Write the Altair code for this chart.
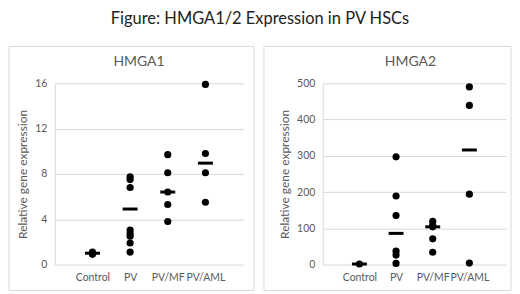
import altair as alt
import pandas as pd

FONT = "Lato"

categories = ["Control", "PV", "PV/MF", "PV/AML"]

# HMGA1 individual samples
hmga1_control = [1.1, 0.9]
hmga1_pv = [7.75, 7.5, 6.8, 3.05, 2.75, 2.5, 1.9, 1.1]
hmga1_pvmf = [9.7, 8.1, 6.4, 5.3, 3.8]
hmga1_pvaml = [15.9, 9.8, 8.1, 5.5]
hmga1_median = [1.0, 4.9, 6.4, 8.95]

# HMGA2 individual samples
hmga2_control = [1.5]
hmga2_pv = [297, 189, 135, 37, 26, 3]
hmga2_pvmf = [119, 108, 104, 71, 34]
hmga2_pvaml = [490, 439, 194, 4]
hmga2_median = [1.5, 86, 104, 316]


def points_frame(groups):
    rows = []
    for cat, vals in zip(categories, groups):
        for v in vals:
            rows.append({"group": cat, "value": v})
    return pd.DataFrame(rows)


def panel(groups, medians, title, domain, ticks, width, bx, by, title_dx):
    pts = points_frame(groups)
    med = pd.DataFrame({"group": categories, "value": medians})
    xenc = alt.X("group:N", sort=categories, title=None,
                 scale=alt.Scale(type="point", padding=1.0),
                 axis=alt.Axis(labelAngle=0, domain=False, ticks=False, grid=False,
                               labelPadding=8, labelFont=FONT, labelFontSize=10.5,
                               labelColor="#595959"))
    yenc = alt.Y("value:Q", title="Relative gene expression",
                 scale=alt.Scale(domain=domain, nice=False, zero=True),
                 axis=alt.Axis(values=ticks, grid=True, gridColor="#d9d9d9",
                               domain=True, domainColor="#d9d9d9", ticks=False,
                               labelOverlap=False,
                               labelPadding=8, labelFont=FONT, labelFontSize=10.5,
                               labelColor="#595959", titleFont=FONT, titleFontSize=12,
                               titleFontWeight="normal", titleColor="#595959",
                               titlePadding=5))
    dots = alt.Chart(pts).mark_circle(size=52, color="black", opacity=1).encode(x=xenc, y=yenc)
    bars = alt.Chart(med).mark_tick(color="black", thickness=3, size=15, opacity=1).encode(
        x=xenc, y=yenc)
    border = alt.Chart(pd.DataFrame({"k": [0]})).mark_rect(
        fillOpacity=0, stroke="#d9d9d9", strokeWidth=1).encode(
        x=alt.value(bx[0]), x2=alt.value(bx[1]), y=alt.value(by[0]), y2=alt.value(by[1]))
    return alt.layer(border, dots, bars).properties(
        width=width, height=182,
        title=alt.TitleParams(title, font=FONT, fontSize=14, fontWeight="normal",
                              color="#595959", frame="group", anchor="middle",
                              offset=-23, dx=title_dx))


left = panel([hmga1_control, hmga1_pv, hmga1_pvmf, hmga1_pvaml], hmga1_median,
             "HMGA1", [0, 16], [0, 4, 8, 12, 16], 189, (-46, 200), (-37, 208), -10)
right = panel([hmga2_control, hmga2_pv, hmga2_pvmf, hmga2_pvaml], hmga2_median,
              "HMGA2", [0, 500], [0, 100, 200, 300, 400, 500], 184, (-59, 189), (-37, 208), -4)

chart = alt.hconcat(left, right, spacing=80, bounds="flush").properties(
    title=alt.TitleParams("Figure: HMGA1/2 Expression in PV HSCs", font=FONT, fontSize=16.5,
                          fontWeight="normal", color="#222222", anchor="middle", offset=18),
    padding={"left": 0, "top": 3, "right": 0, "bottom": 0},
).configure_view(stroke=None)

chart.save("out.html", embed_options={"renderer": "svg", "actions": False})
